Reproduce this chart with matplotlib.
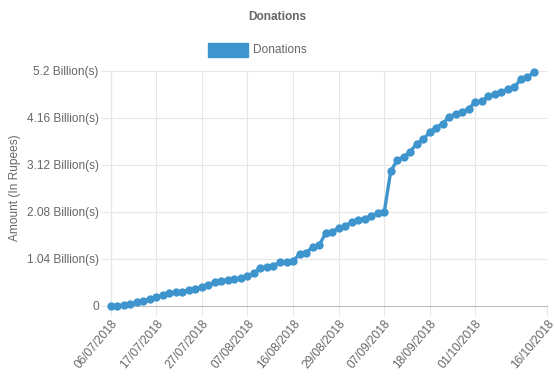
import matplotlib
matplotlib.use('Agg')
import matplotlib.pyplot as plt
from matplotlib.ticker import FuncFormatter

###########################################################

# Donation totals (billions of rupees), one value per category slot.
donations = [
    0.00, 0.00, 0.01, 0.03, 0.07, 0.10, 0.14, 0.19, 0.23, 0.27,
    0.29, 0.31, 0.34, 0.37, 0.40, 0.46, 0.52, 0.55, 0.57, 0.59,
    0.60, 0.66, 0.72, 0.83, 0.86, 0.88, 0.96, 0.97, 0.98, 1.14,
    1.17, 1.29, 1.33, 1.60, 1.63, 1.72, 1.77, 1.84, 1.90, 1.92,
    1.98, 2.04, 2.06, 2.97, 3.22, 3.29, 3.41, 3.58, 3.68, 3.84,
    3.94, 4.03, 4.18, 4.25, 4.29, 4.36, 4.51, 4.52, 4.64, 4.69,
    4.73, 4.79, 4.84, 5.01, 5.05, 5.17,
]

# Category axis has 68 date labels, only every 7th one (plus the last) is shown.
n_labels = 68
label_skip = 7
tick_labels = [
    '06/07/2018', '17/07/2018', '27/07/2018', '07/08/2018', '16/08/2018',
    '29/08/2018', '07/09/2018', '18/09/2018', '01/10/2018', '16/10/2018',
]

y_ticks = [0, 1.04, 2.08, 3.12, 4.16, 5.2]

###########################################################

blue = '#3e95cd'
text_col = '#666666'
grid_col = '#e6e6e6'

plt.rcParams['font.family'] = ['Liberation Sans', 'DejaVu Sans']

fig = plt.figure(figsize=(5.55, 3.80), dpi=100)
ax = fig.add_axes([0.1995, 0.196, 0.786, 0.618])

x = list(range(len(donations)))
ax.plot(x, donations, color=blue, lw=2.4, marker='o', ms=6,
        markeredgewidth=0, zorder=3, clip_on=False)

tick_pos = list(range(0, n_labels - label_skip, label_skip)) + [n_labels - 1]
ax.set_xticks(tick_pos)
ax.set_xticklabels(tick_labels, rotation=50, ha='right', va='top',
                   rotation_mode='anchor')
ax.set_xlim(0, n_labels - 1)

def billions_formatter(v, pos):
    if v == 0:
        return '0'
    return f'{v:g} Billion(s)'

ax.set_yticks(y_ticks)
ax.yaxis.set_major_formatter(FuncFormatter(billions_formatter))
ax.set_ylim(0, 5.2)

ax.grid(True, color=grid_col, lw=0.8)
ax.set_axisbelow(True)
for side in ['top', 'right']:
    ax.spines[side].set_visible(False)
ax.spines['left'].set_color(grid_col)
ax.spines['bottom'].set_color('#bfbfbf')
ax.tick_params(axis='both', colors=text_col, labelsize=8.6, length=7.2,
               width=0.8, pad=1.5)
ax.tick_params(axis='both', color=grid_col)

ax.set_ylabel('Amount (In Rupees)', color=text_col, fontsize=8.6, labelpad=4)

fig.text(0.5, 1 - 17 / 380, 'Donations', ha='center', va='center',
         color=text_col, fontsize=8.6, fontweight='bold')

# legend box drawn like Chart.js: coloured rectangle then label
fig.patches.append(plt.Rectangle((208 / 555, 1 - 57 / 380), 40 / 555, 14 / 380,
                                 transform=fig.transFigure, color=blue))
fig.text(253 / 555, 1 - 50 / 380, 'Donations', ha='left', va='center',
         color=text_col, fontsize=8.6)

plt.savefig('out.png', dpi=100)
